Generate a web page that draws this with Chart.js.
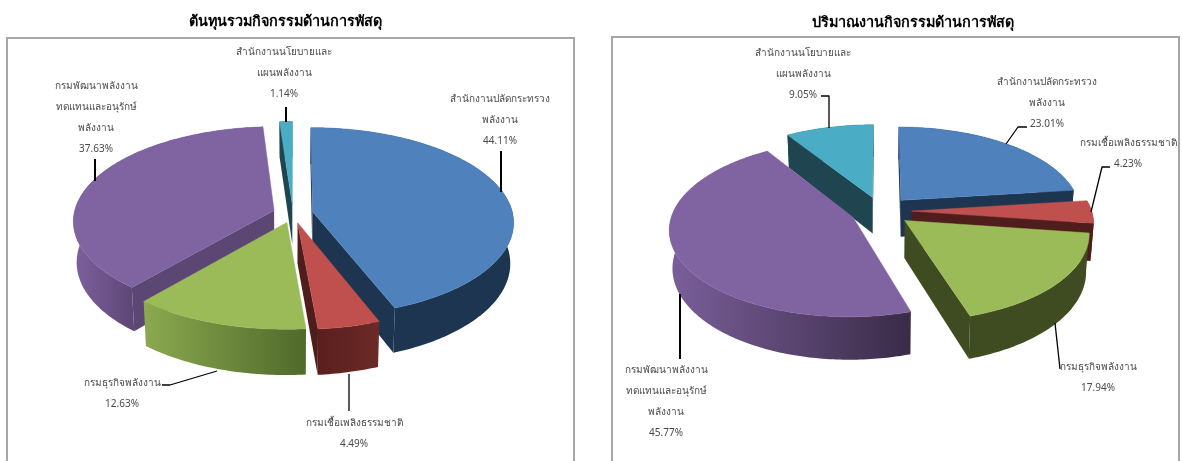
<!DOCTYPE html>
<html><head><meta charset="utf-8">
<script src="https://cdn.jsdelivr.net/npm/chart.js@4"></script>
<style>
html,body{margin:0;padding:0;background:#fff;overflow:hidden}
canvas{position:absolute;top:0;filter:blur(0.3px)}
#a{left:0}#b{left:591px}
</style></head><body>
<canvas id="a" width="591" height="461"></canvas>
<canvas id="b" width="591" height="461"></canvas>
<script>
// ---- data ----
const categories = ['สำนักงานปลัดกระทรวงพลังงาน','กรมเชื้อเพลิงธรรมชาติ','กรมธุรกิจพลังงาน','กรมพัฒนาพลังงานทดแทนและอนุรักษ์พลังงาน','สำนักงานนโยบายและแผนพลังงาน'];
const costValues = [44.11, 4.49, 12.63, 37.63, 1.14];
const workValues = [23.01, 4.23, 17.94, 45.77, 9.05];
const titleCost = 'ต้นทุนรวมกิจกรรมด้านการพัสดุ';
const titleWork = 'ปริมาณงานกิจกรรมด้านการพัสดุ';
const nameLines = [
  ['สำนักงานปลัดกระทรวง','พลังงาน'],
  ['กรมเชื้อเพลิงธรรมชาติ'],
  ['กรมธุรกิจพลังงาน'],
  ['กรมพัฒนาพลังงาน','ทดแทนและอนุรักษ์','พลังงาน'],
  ['สำนักงานนโยบายและ','แผนพลังงาน']
];
// ---- styles ----
const topColors = ['#4F81BD','#C0504D','#9BBB59','#8064A2','#4BACC6'];
const fontName = '"Noto Sans","Open Sans","DejaVu Sans",sans-serif';
// ---- layout of each picture ----
const layoutCost = {
  frame:[7,38,567,440], cx:293, cy:213.5, rx:200, ry:93.4, k:0.106, d:40.5, e:0.10, lowScale:0.985, pad:{left:0,right:21,top:10},
  outer:[['#1E3551','#1E3551'],['#5A1F1D','#6B2A27'],['#8BA94F','#4F6A2B'],['#7D619D','#5E4777'],['#1F4650','#1F4650']],
  radial:['#1E3551','#4F1D1B','#5F7A35','#5B4674','#1F4650'],
  labels:[[500,99],[354,423],[122,383],[96,86],[284,52]],
  leaders:[[[501,151],[501,192]],[[349,374],[349,411]],[[162,385],[170,385],[217,371]],[[95,159],[95,181]],[[286,107],[286,122]]],
  leaderWidths:[2,1.3,1.3,2,2]
};
const layoutWork = {
  frame:[612,37,567,440], cx:881, cy:211, rx:180, ry:85.2, k:0.128, d:37, e:0.17, lowScale:0.985, pad:{left:53,right:0,top:11},
  outer:[['#1E3551','#1E3551'],['#501C1A','#501C1A'],['#3F4B20','#3F4B20'],['#7A5F9A','#3A2B47'],['#1F4650','#1F4650']],
  radial:['#1E3551','#4F1D1B','#3F4B20','#5B4674','#1F4650'],
  labels:[[1047,82],[1128,143],[1098,367],[666,370],[803,53]],
  leaders:[[[1027,127],[1018,127],[1006,144]],[[1110,167],[1102,167],[1091,212]],[[1060,369],[1055,323]],[[680,294],[680,359]],[[821,96],[829,96],[829,128]]],
  leaderWidths:[1.3,1.3,1.3,2,1.3]
};

function makePlugin(L, offsetX){
  function P(X,Y,low){
    const w = 1 - L.k*Y;
    const sc = low ? L.lowScale : 1;
    return {x:L.cx - offsetX + L.rx*X/w*sc, y:L.cy + L.ry*Y/w + (low ? L.d/w : 0)};
  }
  function path(ctx, pts){
    ctx.beginPath();
    pts.forEach((p,i)=> i?ctx.lineTo(p.x,p.y):ctx.moveTo(p.x,p.y));
    ctx.closePath();
  }
  return {
    id:'pie3d',
    beforeDatasetDraw(){ return false; },
    afterDatasetsDraw(chart){
      const ctx = chart.ctx, arcs = chart.getDatasetMeta(0).data, vals = chart.data.datasets[0].data;
      ctx.save();
      ctx.strokeStyle='#A6A6A6'; ctx.lineWidth=2;
      ctx.strokeRect(L.frame[0]-offsetX, L.frame[1], L.frame[2], L.frame[3]);
      const slices = arcs.map((arc,i)=>{
        const a0 = arc.startAngle + Math.PI/2, a1 = arc.endAngle + Math.PI/2, m=(a0+a1)/2;
        const ox = L.e*Math.sin(m), oy = -L.e*Math.cos(m);
        return {i,a0,a1,m,ox,oy};
      }).sort((s,t)=> s.oy - t.oy);
      for(const s of slices){
        const pt = (th,low)=>P(s.ox+Math.sin(th), s.oy-Math.cos(th), low);
        const n = Math.max(8, Math.ceil((s.a1-s.a0)*60));
        const topArc=[], lowArc=[];
        for(let j=0;j<=n;j++){ const th=s.a0+(s.a1-s.a0)*j/n; topArc.push(pt(th,false)); lowArc.push(pt(th,true)); }
        const A=P(s.ox,s.oy,false), A2=P(s.ox,s.oy,true);
        const visible = topArc.filter((p,j)=>{const th=s.a0+(s.a1-s.a0)*j/n; return -Math.cos(th)>-0.15;});
        const vx = (visible.length?visible:topArc).map(p=>p.x);
        const g=ctx.createLinearGradient(Math.min(...vx),0,Math.max(...vx),0);
        g.addColorStop(0,L.outer[s.i][0]); g.addColorStop(1,L.outer[s.i][1]);
        ctx.fillStyle=g;
        path(ctx, topArc.concat(lowArc.slice().reverse())); ctx.fill();
        const mid = pt(s.m,false);
        const faces=[[A,topArc[0],lowArc[0],A2],[A,topArc[n],lowArc[n],A2]];
        for(const f of faces){
          const E=f[1];
          const yOnEdge = A.y + (E.y-A.y)*((mid.x-A.x)/((E.x-A.x)||1e-6));
          if(mid.y < yOnEdge){
            ctx.fillStyle=L.radial[s.i];
            path(ctx,f); ctx.fill();
          }
        }
        ctx.fillStyle=topColors[s.i];
        path(ctx,[A].concat(topArc)); ctx.fill();
        ctx.strokeStyle=topColors[s.i]; ctx.lineWidth=0.5; ctx.stroke();
      }
      ctx.strokeStyle='#000'; ctx.lineJoin='round';
      L.leaders.forEach((pts,i)=>{
        ctx.lineWidth=L.leaderWidths[i];
        ctx.beginPath();
        pts.forEach((p,j)=> j?ctx.lineTo(p[0]-offsetX,p[1]):ctx.moveTo(p[0]-offsetX,p[1]));
        ctx.stroke();
      });
      ctx.fillStyle='#4a4a4a'; ctx.font='10px '+fontName; ctx.textAlign='center'; ctx.textBaseline='middle';
      L.labels.forEach((pos,i)=>{
        const lines = nameLines[i].concat([vals[i].toFixed(2)+'%']);
        lines.forEach((t,j)=> ctx.fillText(t, pos[0]-offsetX, pos[1]+j*21));
      });
      ctx.restore();
    }
  };
}

function build(id, values, title, L, offsetX){
  new Chart(document.getElementById(id),{
    type:'pie',
    data:{labels:categories, datasets:[{data:values, backgroundColor:topColors, borderWidth:0}]},
    options:{
      responsive:false, animation:false,
      layout:{padding:L.pad},
      plugins:{
        legend:{display:false}, tooltip:{enabled:false},
        title:{display:true, text:title, color:'#000', fullSize:false, padding:{top:3,bottom:4},
               font:{family:fontName, size:14.4, weight:'bold'}}
      }
    },
    plugins:[makePlugin(L, offsetX)]
  });
}
build('a', costValues, titleCost, layoutCost, 0);
build('b', workValues, titleWork, layoutWork, 591);
</script>
</body></html>
